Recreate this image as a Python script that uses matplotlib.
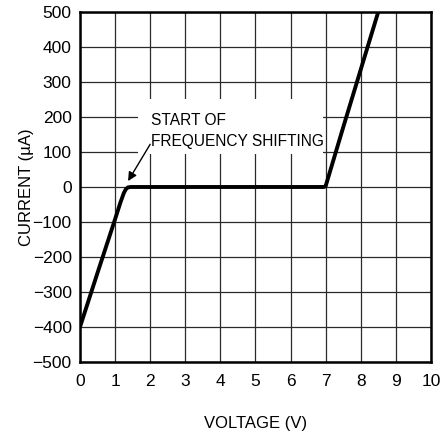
import matplotlib
matplotlib.use("Agg")
import matplotlib.pyplot as plt
from matplotlib.patches import Rectangle

# curve (V, uA)
voltage = [0.0, 0.5, 1.0, 1.15, 1.25, 1.31, 1.37, 1.45, 3.0, 5.0, 6.95, 7.0, 7.5, 8.0, 8.5]
current = [-400, -245, -92, -45, -17, -6, -1, 0, 0, 0, 0, 2, 170, 335, 500]

x_ticks = list(range(0, 11))
y_ticks = list(range(-500, 501, 100))

plt.rcParams["font.family"] = ["Liberation Sans", "DejaVu Sans"]

fig = plt.figure(figsize=(4.41, 4.33), dpi=100)
ax = fig.add_axes([0.1814, 0.164, 0.7956, 0.8083])

ax.set_xlim(0, 10)
ax.set_ylim(-500, 500)
ax.set_xticks(x_ticks)
ax.set_yticks(y_ticks)
ax.set_xticklabels([str(v) for v in x_ticks], fontsize=12.5)
ax.set_yticklabels([str(v).replace("-", "\u2212") for v in y_ticks], fontsize=12.5)
ax.tick_params(axis="x", length=0, pad=9)
ax.tick_params(axis="y", length=0, pad=6)
ax.set_axisbelow(True)
ax.grid(True, color="#2a2a2a", linewidth=0.9)
for s in ax.spines.values():
    s.set_linewidth(1.8)

# white patch behind the annotation text
ax.add_patch(Rectangle((1.65, 94), 5.28, 156, facecolor="white", edgecolor="none", zorder=1))

ax.plot(voltage, current, color="black", linewidth=2.8, zorder=3,
        solid_joinstyle="round", solid_capstyle="butt")

ax.text(2.02, 178, "START OF", fontsize=11.2, ha="left", va="baseline", zorder=4)
ax.text(2.02, 118, "FREQUENCY SHIFTING", fontsize=11.2, ha="left", va="baseline", zorder=4)
ax.annotate("", xy=(1.37, 17), xytext=(2.0, 122),
            arrowprops=dict(arrowstyle="-|>", color="black", lw=1.0,
                            mutation_scale=13, shrinkA=0, shrinkB=0), zorder=4)

ax.set_xlabel("VOLTAGE (V)", fontsize=12, labelpad=19)
ax.set_ylabel("CURRENT (\u00b5A)", fontsize=12, labelpad=-1)

fig.savefig("out.png", dpi=100)
